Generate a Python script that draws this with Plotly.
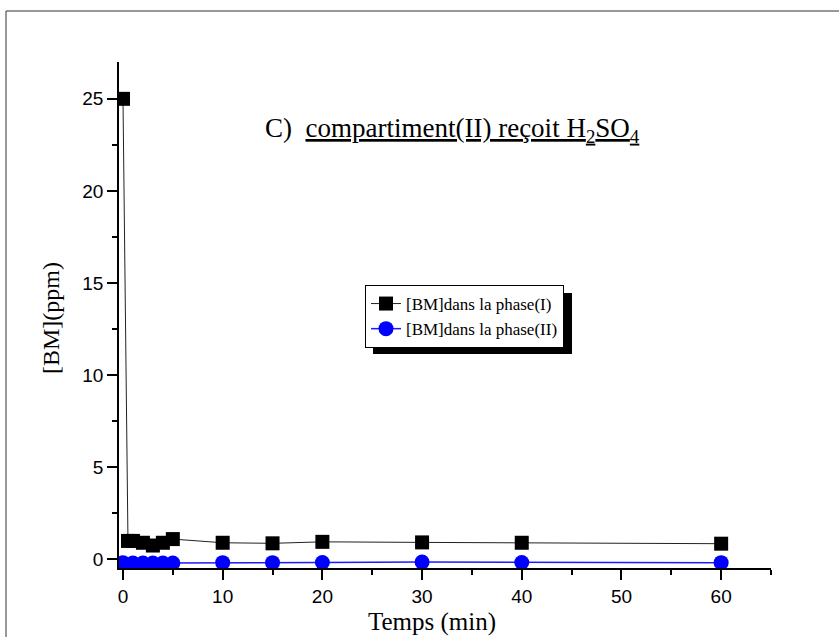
import plotly.graph_objects as go

t_I = [0, 0.5, 1, 2, 3, 4, 5, 10, 15, 20, 30, 40, 60]
bm_I = [25, 1.0, 1.0, 0.9, 0.75, 0.9, 1.1, 0.9, 0.87, 0.95, 0.92, 0.9, 0.85]
t_II = [0, 1, 2, 3, 4, 5, 10, 15, 20, 30, 40, 60]
bm_II = [-0.18, -0.2, -0.2, -0.2, -0.2, -0.2, -0.18, -0.18, -0.17, -0.15, -0.17, -0.18]

x_ticks = [0, 10, 20, 30, 40, 50, 60]
y_ticks = [0, 5, 10, 15, 20, 25]

W, H = 839, 637
L, R, T, B = 119, 68, 62, 69
pw, ph = W - L - R, H - T - B

def px(x):
    return (x - L) / pw

def py(y):
    return (H - B - y) / ph

fig = go.Figure()
fig.add_trace(go.Scatter(
    x=t_I, y=bm_I, mode="lines+markers", name="[BM]dans la phase(I)",
    line=dict(color="#222222", width=1),
    marker=dict(symbol="square", size=14, color="black"),
))
fig.add_trace(go.Scatter(
    x=t_II, y=bm_II, mode="lines+markers", name="[BM]dans la phase(II)",
    line=dict(color="#1a1aff", width=1.5),
    marker=dict(symbol="circle", size=15, color="#0000ff"),
))

axis_common = dict(
    showline=True, linecolor="black", linewidth=1.6, showgrid=False, zeroline=False,
    ticks="outside", tickcolor="black", tickwidth=1.6, ticklen=10,
    tickfont=dict(family="Liberation Sans, Arial", size=19, color="black"),
    mirror=False,
)

fig.update_xaxes(range=[-0.4, 65], tickvals=x_ticks,
                 minor=dict(dtick=5, tick0=0, ticks="outside", ticklen=5, tickcolor="black", tickwidth=1.6),
                 **axis_common)
fig.update_yaxes(range=[-0.47, 27], tickvals=y_ticks,
                 minor=dict(dtick=2.5, tick0=0, ticks="outside", ticklen=5, tickcolor="black", tickwidth=1.6),
                 **axis_common)

fig.update_layout(
    width=W, height=H,
    margin=dict(l=L, r=R, t=T, b=B),
    plot_bgcolor="white", paper_bgcolor="white",
    showlegend=True,
    legend=dict(
        x=px(365), y=py(285), xanchor="left", yanchor="top",
        bgcolor="white", bordercolor="black", borderwidth=1,
        font=dict(family="Liberation Serif, Times New Roman", size=17, color="black"),
        itemwidth=30, tracegroupgap=0,
    ),
    shapes=[
        dict(type="rect", xref="paper", yref="paper",
             x0=px(6), x1=px(860), y0=py(660), y1=py(11),
             line=dict(color="#333333", width=1), fillcolor="rgba(0,0,0,0)", layer="below"),
        dict(type="rect", xref="paper", yref="paper",
             x0=px(373), x1=px(572), y0=py(354), y1=py(293),
             line=dict(width=0), fillcolor="black", layer="above"),
    ],
    annotations=[
        dict(xref="paper", yref="paper", x=px(452), y=py(130),
             text="C)  <u>compartiment(II) reçoit H<sub>2</sub>SO<sub>4</sub></u>",
             showarrow=False, xanchor="center", yanchor="middle",
             font=dict(family="Liberation Serif, Times New Roman", size=27, color="black")),
        dict(xref="paper", yref="paper", x=px(432), y=py(622),
             text="Temps (min)", showarrow=False, xanchor="center", yanchor="middle",
             font=dict(family="Liberation Serif, Times New Roman", size=25, color="black")),
        dict(xref="paper", yref="paper", x=px(51), y=py(318),
             text="[BM](ppm)", showarrow=False, xanchor="center", yanchor="middle", textangle=-90,
             font=dict(family="Liberation Serif, Times New Roman", size=24, color="black")),
    ],
)

fig.write_html("out.html")
